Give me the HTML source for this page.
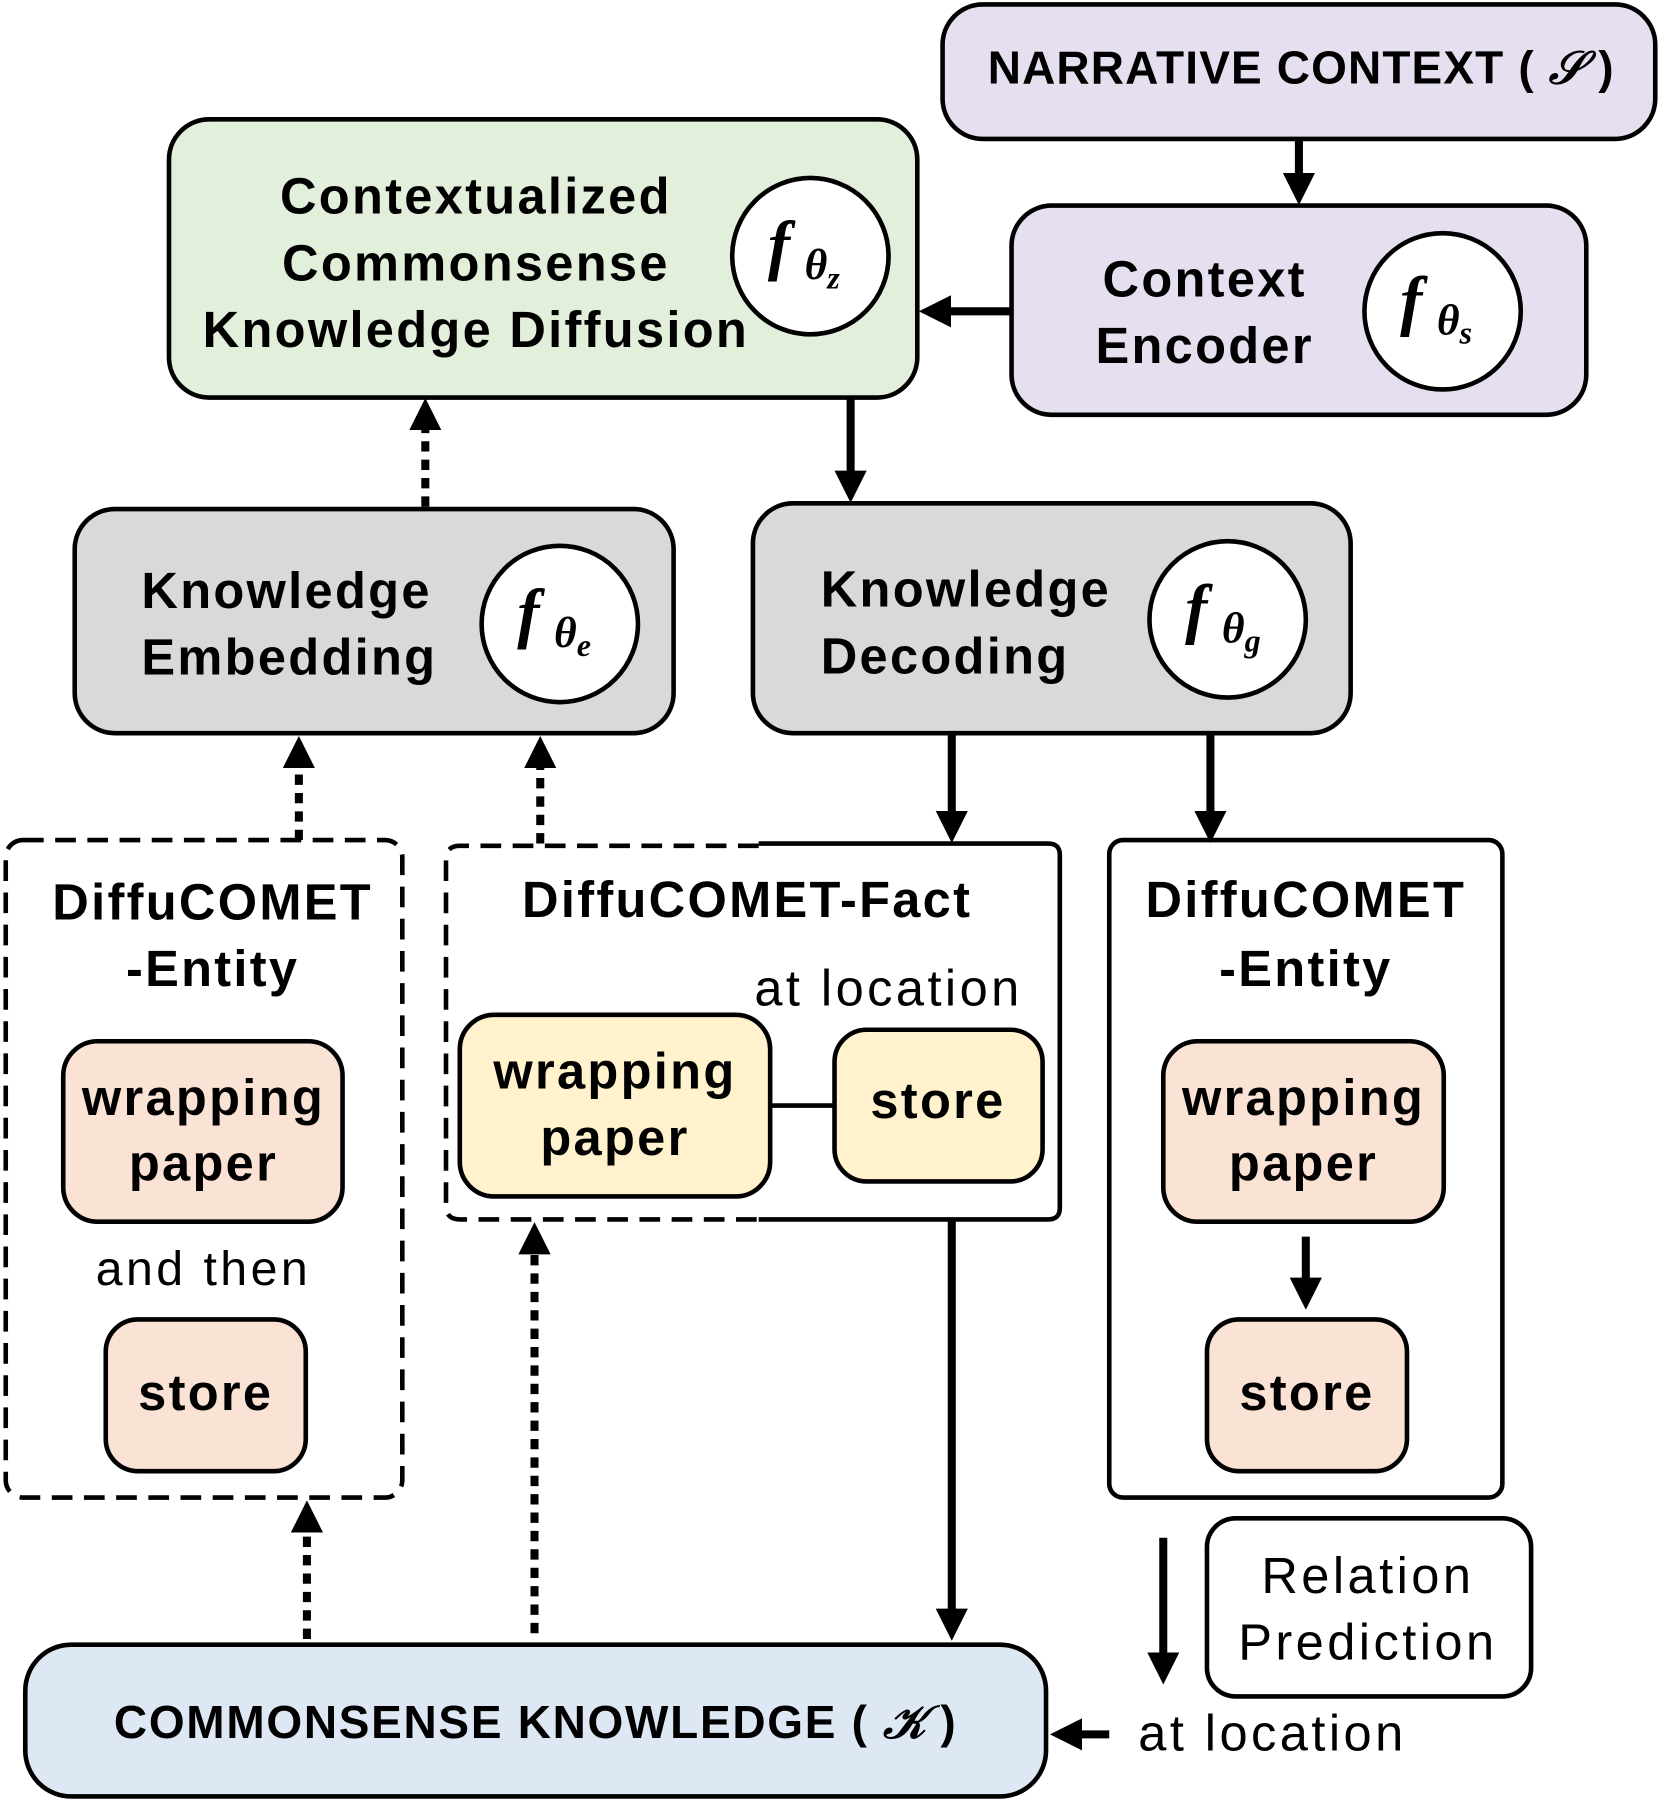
<!DOCTYPE html>
<html><head><meta charset="utf-8"><style>
html,body{margin:0;padding:0;background:#fff;}
svg{display:block;}
text{font-family:"Liberation Sans",sans-serif;font-weight:bold;fill:#000;}
.n{font-weight:normal;letter-spacing:3px;}
.m{font-family:"Liberation Serif",serif;font-style:italic;font-weight:bold;letter-spacing:0;}
</style></head><body>
<svg width="1661" height="1802" viewBox="0 0 1445 1566" xmlns="http://www.w3.org/2000/svg">
<defs>
<marker id="a" markerWidth="4" markerHeight="4" refX="2.2" refY="2" orient="auto" markerUnits="strokeWidth">
<path d="M0,0 L4,2 L0,4 z" fill="#000"/></marker>
</defs>
<g stroke="#000" stroke-width="4">
<rect x="820" y="3" width="620" height="117" rx="35" fill="#e6dff0"/>
<rect x="880" y="178" width="500" height="182" rx="35" fill="#e6dff0"/>
<rect x="147" y="103" width="651" height="242" rx="35" fill="#e2efda"/>
<rect x="65" y="442" width="521" height="195" rx="35" fill="#d9d9d9"/>
<rect x="655" y="437" width="520" height="200" rx="35" fill="#d9d9d9"/>
<rect x="22" y="1430" width="888" height="132" rx="40" fill="#dde8f4"/>
<rect x="1050" y="1320" width="282" height="155" rx="25" fill="#fff"/>
<rect x="5" y="730" width="345" height="572" rx="15" fill="none" stroke-dasharray="18,10"/>
<path d="M660,733 L912,733 Q922,733 922,743 L922,1050 Q922,1060 912,1060 L660,1060" fill="none"/>
<path d="M660,735 L400,735 Q388,735 388,747 L388,1048 Q388,1060 400,1060 L660,1060" fill="none" stroke-dasharray="18,10"/>
<rect x="965" y="730" width="342" height="572" rx="12" fill="none"/>
<rect x="55" y="905" width="243" height="157" rx="30" fill="#fae3d5"/>
<rect x="92" y="1147" width="174" height="132" rx="28" fill="#fae3d5"/>
<rect x="400" y="882" width="270" height="158" rx="30" fill="#fff2cc"/>
<rect x="726" y="895" width="181" height="132" rx="28" fill="#fff2cc"/>
<line x1="670" y1="961" x2="726" y2="961"/>
<rect x="1012" y="905" width="244" height="157" rx="30" fill="#fae3d5"/>
<rect x="1050" y="1147" width="174" height="132" rx="28" fill="#fae3d5"/>
<circle cx="705" cy="222" r="68" fill="#fff"/>
<circle cx="1255" cy="270" r="68" fill="#fff"/>
<circle cx="487" cy="542" r="68" fill="#fff"/>
<circle cx="1068" cy="538" r="68" fill="#fff"/>
</g>
<g stroke="#000" stroke-width="7" fill="none">
<line x1="1130" y1="120" x2="1130" y2="165" marker-end="url(#a)"/>
<line x1="880" y1="270" x2="812" y2="270" marker-end="url(#a)"/>
<line x1="740" y1="345" x2="740" y2="424" marker-end="url(#a)"/>
<line x1="828" y1="637" x2="828" y2="720" marker-end="url(#a)"/>
<line x1="1053" y1="637" x2="1053" y2="720" marker-end="url(#a)"/>
<line x1="1136" y1="1075" x2="1136" y2="1126" marker-end="url(#a)"/>
<line x1="828" y1="1060" x2="828" y2="1414" marker-end="url(#a)"/>
<line x1="1012" y1="1337" x2="1012" y2="1452" marker-end="url(#a)"/>
<line x1="965" y1="1508" x2="926" y2="1508" marker-end="url(#a)"/>
<g stroke-dasharray="9,7">
<line x1="370" y1="440" x2="370" y2="358" marker-end="url(#a)"/>
<line x1="260" y1="730" x2="260" y2="652" marker-end="url(#a)"/>
<line x1="470" y1="733" x2="470" y2="652" marker-end="url(#a)"/>
<line x1="267" y1="1425" x2="267" y2="1317" marker-end="url(#a)"/>
<line x1="465" y1="1420" x2="465" y2="1075" marker-end="url(#a)"/>
</g>
</g>
<g font-size="44" text-anchor="middle" letter-spacing="2">
<text x="1132" y="72" font-size="40" letter-spacing="1">NARRATIVE CONTEXT ( <tspan class="m">𝒮</tspan> )</text>
<text x="414" y="185">Contextualized</text>
<text x="414" y="243">Commonsense</text>
<text x="414" y="301">Knowledge Diffusion</text>
<text x="1048" y="257">Context</text>
<text x="1048" y="315">Encoder</text>
<text x="123" y="528" text-anchor="start">Knowledge</text>
<text x="123" y="586" text-anchor="start">Embedding</text>
<text x="714" y="527" text-anchor="start">Knowledge</text>
<text x="714" y="585" text-anchor="start">Decoding</text>
<text x="185" y="799">DiffuCOMET</text>
<text x="185" y="857">-Entity</text>
<text x="177" y="969">wrapping</text>
<text x="177" y="1026">paper</text>
<text x="177" y="1117" class="n" font-size="42">and then</text>
<text x="179" y="1226">store</text>
<text x="650" y="797">DiffuCOMET-Fact</text>
<text x="773" y="874" class="n" font-size="44">at location</text>
<text x="535" y="946">wrapping</text>
<text x="535" y="1004">paper</text>
<text x="816" y="972">store</text>
<text x="1136" y="797">DiffuCOMET</text>
<text x="1136" y="857">-Entity</text>
<text x="1134" y="969">wrapping</text>
<text x="1134" y="1026">paper</text>
<text x="1137" y="1226">store</text>
<text x="466" y="1511" font-size="40" letter-spacing="1.5">COMMONSENSE KNOWLEDGE ( <tspan class="m">𝒦</tspan> )</text>
<text x="1190" y="1385" class="n" font-size="44">Relation</text>
<text x="1190" y="1443" class="n" font-size="44">Prediction</text>
<text x="1107" y="1522" class="n" font-size="44">at location</text>
</g>
<g>
<text x="668" y="232" font-size="58" class="m">f</text><text x="700" y="242" font-size="38" class="m">θ<tspan font-size="28" dy="8">z</tspan></text>
<text x="1218" y="280" font-size="58" class="m">f</text><text x="1250" y="290" font-size="38" class="m">θ<tspan font-size="28" dy="8">s</tspan></text>
<text x="450" y="552" font-size="58" class="m">f</text><text x="482" y="562" font-size="38" class="m">θ<tspan font-size="28" dy="8">e</tspan></text>
<text x="1031" y="548" font-size="58" class="m">f</text><text x="1063" y="558" font-size="38" class="m">θ<tspan font-size="28" dy="8">g</tspan></text>
</g>
</svg>
</body></html>
